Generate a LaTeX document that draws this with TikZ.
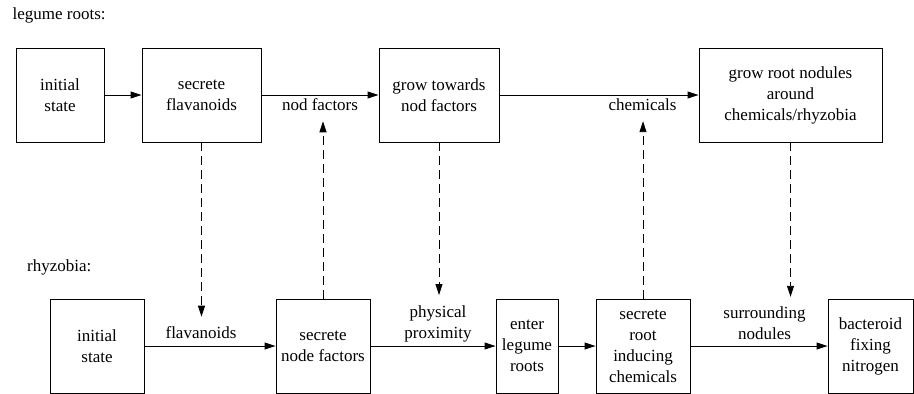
\documentclass[tikz,border=0pt]{standalone}
\usepackage{fontspec}
\setmainfont{Liberation Serif}
\usetikzlibrary{arrows.meta}

\tikzset{
  procbox/.style={draw, line width=0.9pt, align=center, inner sep=0pt, minimum height=94pt},
  edgelabel/.style={align=center, inner sep=0pt},
  flow/.style={-{Triangle[length=11pt,width=7pt]}, line width=0.9pt},
  signal/.style={flow, dash pattern=on 9pt off 5pt, shorten >=10pt},
}

\begin{document}
\begin{tikzpicture}[x=1pt, y=-1pt, every node/.style={font=\fontsize{17}{21}\selectfont}]
        \useasboundingbox (0,0) rectangle (914,394);

        % Row titles
        \node[edgelabel, anchor=west] (legume) at (12.5,15) {legume roots:};
        \node[edgelabel, anchor=west] (rhyzo) at (27,267) {rhyzobia:};

        % Draw the legume root states
        \node[procbox, minimum width=88pt] (t1) at (60,95) {initial\\state};
        \node[procbox, minimum width=119pt] (t2) at (201.5,95) {secrete\\flavanoids};
        \node[procbox, minimum width=120pt] (t3) at (439,95) {grow towards\\nod factors};
        \node[procbox, minimum width=183pt] (t4) at (790.5,95) {grow root nodules\\around\\chemicals/rhyzobia};

        % Draw the rhyzobia states
        \node[procbox, minimum width=94pt] (b1) at (97,346) {initial\\state};
        \node[procbox, minimum width=94pt] (b2) at (323,346) {secrete\\node factors};
        \node[procbox, minimum width=62pt] (b3) at (527,346) {enter\\legume\\roots};
        \node[procbox, minimum width=94pt] (b4) at (643,346) {secrete\\root\\inducing\\chemicals};
        \node[procbox, minimum width=85pt] (b5) at (870.5,346) {bacteroid\\fixing\\nitrogen};

        % Transition labels
        \node[edgelabel] (nodf) at (320,105) {nod factors};
        \node[edgelabel] (chem) at (642.5,105) {chemicals};
        \node[edgelabel] (flav) at (201,333) {flavanoids};
        \node[edgelabel] (prox) at (438,323.5) {physical\\proximity};
        \node[edgelabel] (surr) at (764.5,323.5) {surrounding\\nodules};

        % Transitions of the legume roots
        \draw[flow] (t1) -- (t2);
        \draw[flow] (t2) -- (t3);
        \draw[flow] (t3) -- (t4);

        % Transitions of the rhyzobia
        \draw[flow] (b1) -- (b2);
        \draw[flow] (b2) -- (b3);
        \draw[flow] (b3) -- (b4);
        \draw[flow] (b4) -- (b5);

        % Signals passed between the two rows
        \draw[signal] (t2.south) -- (t2.south |- flav.north);
        \draw[signal] (b2.north) -- (b2.north |- nodf.south);
        \draw[signal] (t3.south) -- (t3.south |- prox.north);
        \draw[signal] (b4.north) -- (b4.north |- chem.south);
        \draw[signal] (t4.south) -- (t4.south |- surr.north);

    \end{tikzpicture}
\end{document}
